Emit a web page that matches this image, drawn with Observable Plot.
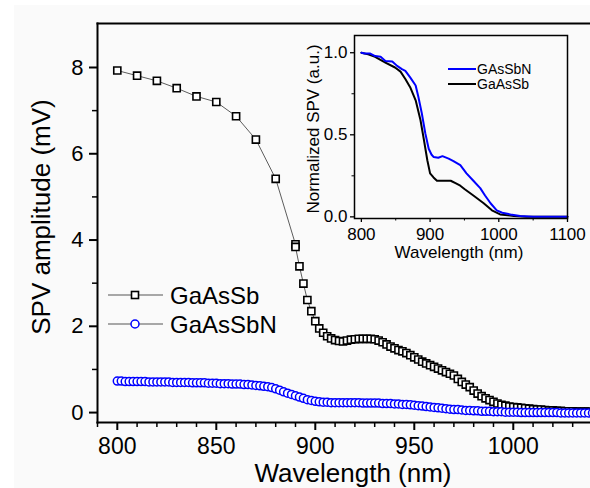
<!DOCTYPE html>
<html>
<head>
<meta charset="utf-8">
<script src="https://cdn.jsdelivr.net/npm/d3@7"></script>
<script src="https://cdn.jsdelivr.net/npm/@observablehq/plot@0.6"></script>
<style>
  html, body { margin: 0; padding: 0; background: #ffffff; overflow: hidden; }
  #wrap { position: relative; width: 590px; height: 488px; background: #ffffff; }
  #main { position: absolute; left: 14px; top: 5px; }
  #inset { position: absolute; left: 300px; top: 30px; }
  #legend { position: absolute; left: 0; top: 0; pointer-events: none; }
</style>
</head>
<body>
<div id="wrap">
  <div id="main"></div>
  <div id="inset"></div>
  <svg id="legend" width="590" height="488"></svg>
</div>
<script>
// ---------- main chart data ----------
const gaassbWavelength = [
  800, 810, 820, 830, 840, 850, 860, 870, 880, 890, 890,
  892, 894, 896, 898, 900, 902, 904, 906, 908, 910, 912, 914, 916, 918, 920,
  922, 924, 926, 928, 930, 932, 934, 936, 938, 940, 942, 944, 946, 948, 950,
  952, 954, 956, 958, 960, 962, 964, 966, 968, 970, 972, 974, 976, 978, 980,
  982, 984, 986, 988, 990, 992, 994, 996, 998, 1000, 1002, 1004, 1006, 1008, 1010,
  1012, 1014, 1016, 1018, 1020, 1022, 1024, 1026, 1028, 1030, 1032, 1034, 1036, 1038, 1040
];
const gaassbSPV = [
  7.93, 7.81, 7.69, 7.52, 7.33, 7.20, 6.87, 6.33, 5.42, 3.90, 3.84,
  3.39, 2.99, 2.61, 2.35, 2.12, 1.95, 1.85, 1.77, 1.72, 1.68, 1.66, 1.65, 1.67, 1.69, 1.70,
  1.71, 1.71, 1.71, 1.71, 1.70, 1.67, 1.63, 1.58, 1.53, 1.49, 1.45, 1.42, 1.38, 1.33, 1.28,
  1.23, 1.18, 1.14, 1.10, 1.06, 1.02, 0.98, 0.94, 0.90, 0.86, 0.78, 0.71, 0.65, 0.59, 0.51,
  0.44, 0.38, 0.33, 0.29, 0.25, 0.21, 0.18, 0.16, 0.14, 0.13, 0.12, 0.11, 0.10, 0.09, 0.08,
  0.07, 0.07, 0.06, 0.05, 0.05, 0.04, 0.04, 0.03, 0.03, 0.03, 0.02, 0.02, 0.02, 0.02, 0.01
];

const gaassbnWavelength = [
  800, 802, 804, 806, 808, 810, 812, 814, 816, 818, 820, 822, 824, 826, 828, 830,
  832, 834, 836, 838, 840, 842, 844, 846, 848, 850, 852, 854, 856, 858, 860, 862,
  864, 866, 868, 870, 872, 874, 876, 878, 880, 882, 884, 886, 888, 890, 892, 894,
  896, 898, 900, 902, 904, 906, 908, 910, 912, 914, 916, 918, 920, 922, 924, 926,
  928, 930, 932, 934, 936, 938, 940, 942, 944, 946, 948, 950, 952, 954, 956, 958,
  960, 962, 964, 966, 968, 970, 972, 974, 976, 978, 980, 982, 984, 986, 988, 990,
  992, 994, 996, 998, 1000, 1002, 1004, 1006, 1008, 1010, 1012, 1014, 1016, 1018, 1020, 1022,
  1024, 1026, 1028, 1030, 1032, 1034, 1036, 1038, 1040
];
const gaassbnSPV = [
  0.73, 0.73, 0.72, 0.72, 0.72, 0.72, 0.72, 0.72, 0.71, 0.71, 0.71, 0.71, 0.71, 0.71, 0.70, 0.70,
  0.70, 0.70, 0.70, 0.69, 0.69, 0.69, 0.69, 0.68, 0.68, 0.68, 0.67, 0.67, 0.67, 0.66, 0.66, 0.66,
  0.65, 0.65, 0.64, 0.63, 0.62, 0.61, 0.60, 0.58, 0.55, 0.52, 0.48, 0.45, 0.42, 0.39, 0.36, 0.33,
  0.30, 0.28, 0.26, 0.25, 0.24, 0.24, 0.23, 0.23, 0.23, 0.23, 0.23, 0.23, 0.23, 0.23, 0.22, 0.22,
  0.22, 0.22, 0.22, 0.21, 0.21, 0.21, 0.20, 0.20, 0.19, 0.19, 0.18, 0.17, 0.16, 0.15, 0.14, 0.13,
  0.12, 0.11, 0.10, 0.09, 0.08, 0.07, 0.07, 0.06, 0.05, 0.05, 0.04, 0.04, 0.03, 0.03, 0.03, 0.02,
  0.02, 0.02, 0.01, 0.01, 0.01, 0.01, 0.00, 0.00, 0.00, 0.00, 0.00, 0.00, 0.00, 0.00, 0.00, 0.00,
  -0.01, -0.01, -0.01, -0.01, -0.01, -0.01, -0.01, -0.01, -0.01
];

const mainXTicks = [800, 850, 900, 950, 1000];
const mainXMinor = [790, 810, 820, 830, 840, 860, 870, 880, 890, 910, 920, 930, 940, 960, 970, 980, 990, 1010, 1020, 1030];
const mainYTicks = [0, 2, 4, 6, 8];
const mainYMinor = [1, 3, 5, 7];

// ---------- inset data ----------
const insetGaAsSbNWavelength = [800, 805, 813, 820, 828, 835, 845, 852, 859, 864, 871, 879, 883, 888, 893, 898, 902, 905, 912, 918, 927, 934, 944, 953, 963, 973, 980, 988, 997, 1005, 1017, 1031, 1050, 1100];
const insetGaAsSbNValue      = [1.0, 0.995, 0.995, 0.98, 0.975, 0.95, 0.947, 0.92, 0.90, 0.89, 0.85, 0.80, 0.73, 0.63, 0.51, 0.415, 0.38, 0.365, 0.36, 0.37, 0.355, 0.34, 0.315, 0.265, 0.22, 0.175, 0.13, 0.083, 0.04, 0.025, 0.015, 0.005, 0.0, 0.0];
const insetGaAsSbWavelength = [800, 810, 820, 835, 849, 857, 864, 871, 879, 886, 891, 896, 900, 905, 910, 920, 930, 937, 944, 950, 963, 978, 990, 1002, 1022, 1040, 1100];
const insetGaAsSbValue      = [1.0, 0.99, 0.975, 0.94, 0.91, 0.885, 0.84, 0.79, 0.71, 0.59, 0.47, 0.345, 0.265, 0.24, 0.22, 0.22, 0.22, 0.205, 0.19, 0.17, 0.13, 0.083, 0.04, 0.015, 0.005, 0.0, 0.0];

const insetXTicks = [800, 900, 1000, 1100];
const insetXMinor = [850, 950, 1050];
const insetYTicks = [0, 0.5, 1.0];
const insetYMinor = [0.25, 0.75];

const seriesNames = ["GaAsSb", "GaAsSbN"];
const insetNames = ["GAsSbN", "GaAsSb"];

const FONT = "'Liberation Sans', Arial, Helvetica, sans-serif";

const mainA = gaassbWavelength.map((w, i) => ({w, v: gaassbSPV[i]}));
const mainB = gaassbnWavelength.map((w, i) => ({w, v: gaassbnSPV[i]}));
const insA = insetGaAsSbNWavelength.map((w, i) => ({w, v: insetGaAsSbNValue[i]}));
const insB = insetGaAsSbWavelength.map((w, i) => ({w, v: insetGaAsSbValue[i]}));

const intFmt = d => String(d);

const main = Plot.plot({
  width: 576,
  height: 483,
  marginLeft: 83,
  marginRight: 0,
  marginTop: 18,
  marginBottom: 66,
  style: {background: "#fafafa", fontFamily: FONT, color: "#000", overflow: "visible"},
  x: {domain: [790, 1039]},
  y: {domain: [-0.23, 9.02]},
  marks: [
    Plot.axisX({ticks: mainXMinor, tickSize: 5, tickFormat: () => "", label: null, strokeWidth: 1.5}),
    Plot.axisX({ticks: mainXTicks, tickSize: 8, tickPadding: 7, fontSize: 23, label: null, strokeWidth: 2, tickFormat: intFmt}),
    Plot.axisY({ticks: mainYMinor, tickSize: 5, tickFormat: () => "", label: null, strokeWidth: 1.5}),
    Plot.axisY({ticks: mainYTicks, tickSize: 8, tickPadding: 6, fontSize: 22, label: null, strokeWidth: 2, tickFormat: intFmt}),
    Plot.line(mainA, {x: "w", y: "v", stroke: "#333", strokeWidth: 0.8}),
    Plot.dot(mainA, {x: "w", y: "v", symbol: "square", r: 4, stroke: "#000", strokeWidth: 1.6, fill: "#ffffff"}),
    Plot.line(mainB, {x: "w", y: "v", stroke: "#0000ff", strokeWidth: 0.8}),
    Plot.dot(mainB, {x: "w", y: "v", symbol: "circle", r: 4, stroke: "#0000ff", strokeWidth: 1.5, fill: "#ffffff"}),
    Plot.frame({anchor: "left", strokeWidth: 2}),
    Plot.frame({anchor: "bottom", strokeWidth: 2}),
    Plot.frame({anchor: "top", strokeWidth: 2}),
    Plot.text(["Wavelength (nm)"], {text: d => d, frameAnchor: "bottom", textAnchor: "middle", dy: 51, dx: 9, fontSize: 26, lineAnchor: "middle"}),
    Plot.text(["SPV amplitude (mV)"], {text: d => d, frameAnchor: "left", textAnchor: "middle", rotate: -90, dx: -56, dy: -6, fontSize: 26, lineAnchor: "middle"})
  ]
});
document.getElementById("main").appendChild(main);

const inset = Plot.plot({
  width: 280,
  height: 235,
  marginLeft: 54,
  marginRight: 13,
  marginTop: 5,
  marginBottom: 47,
  style: {background: "transparent", fontFamily: FONT, color: "#000", overflow: "visible"},
  x: {domain: [790, 1100]},
  y: {domain: [-0.01, 1.105]},
  marks: [
    Plot.axisX({ticks: insetXMinor, tickSize: 2.5, tickFormat: () => "", label: null, strokeWidth: 1}),
    Plot.axisX({ticks: insetXTicks, tickSize: 4, tickPadding: 5, fontSize: 17, label: null, strokeWidth: 1.3, tickFormat: intFmt}),
    Plot.axisY({ticks: insetYMinor, tickSize: 2.5, tickFormat: () => "", label: null, strokeWidth: 1}),
    Plot.axisY({ticks: insetYTicks, tickSize: 4, tickPadding: 3, fontSize: 17, label: null, strokeWidth: 1.3, tickFormat: d3.format(".1f")}),
    Plot.line(insB, {x: "w", y: "v", stroke: "#000", strokeWidth: 2}),
    Plot.line(insA, {x: "w", y: "v", stroke: "#0000ff", strokeWidth: 2}),
    Plot.frame({strokeWidth: 1.5}),
    Plot.text(["Wavelength (nm)"], {text: d => d, frameAnchor: "bottom", textAnchor: "middle", dy: 34, dx: -2, fontSize: 17, lineAnchor: "middle"}),
    Plot.text(["Normalized SPV (a.u.)"], {text: d => d, frameAnchor: "left", textAnchor: "middle", rotate: -90, dx: -41, dy: 2, fontSize: 17, lineAnchor: "middle"})
  ]
});
document.getElementById("inset").appendChild(inset);

// ---------- legends (overlay) ----------
const lg = d3.select("#legend");
const mainLegend = [
  {name: seriesNames[0], y: 295, color: "#000", symbol: "square"},
  {name: seriesNames[1], y: 324, color: "#0000ff", symbol: "circle"}
];
mainLegend.forEach(d => {
  lg.append("line").attr("x1", 108).attr("x2", 163).attr("y1", d.y).attr("y2", d.y)
    .attr("stroke", "#555").attr("stroke-width", 1);
  if (d.symbol === "square") {
    lg.append("rect").attr("x", 131.5).attr("y", d.y - 3.5).attr("width", 7).attr("height", 7)
      .attr("fill", "#fff").attr("stroke", d.color).attr("stroke-width", 1.6);
  } else {
    lg.append("circle").attr("cx", 135).attr("cy", d.y).attr("r", 4)
      .attr("fill", "#fff").attr("stroke", d.color).attr("stroke-width", 1.5);
  }
  lg.append("text").attr("x", 170).attr("y", d.y).attr("dy", "0.36em")
    .attr("font-family", FONT).attr("font-size", 24).attr("fill", "#000").text(d.name);
});
const insetLegend = [
  {name: insetNames[0], y: 69, color: "#0000ff"},
  {name: insetNames[1], y: 84, color: "#000"}
];
insetLegend.forEach(d => {
  lg.append("line").attr("x1", 448).attr("x2", 476).attr("y1", d.y).attr("y2", d.y)
    .attr("stroke", d.color).attr("stroke-width", 2);
  lg.append("text").attr("x", 477).attr("y", d.y).attr("dy", "0.36em")
    .attr("font-family", FONT).attr("font-size", 14).attr("fill", "#000").text(d.name);
});
</script>
</body>
</html>
